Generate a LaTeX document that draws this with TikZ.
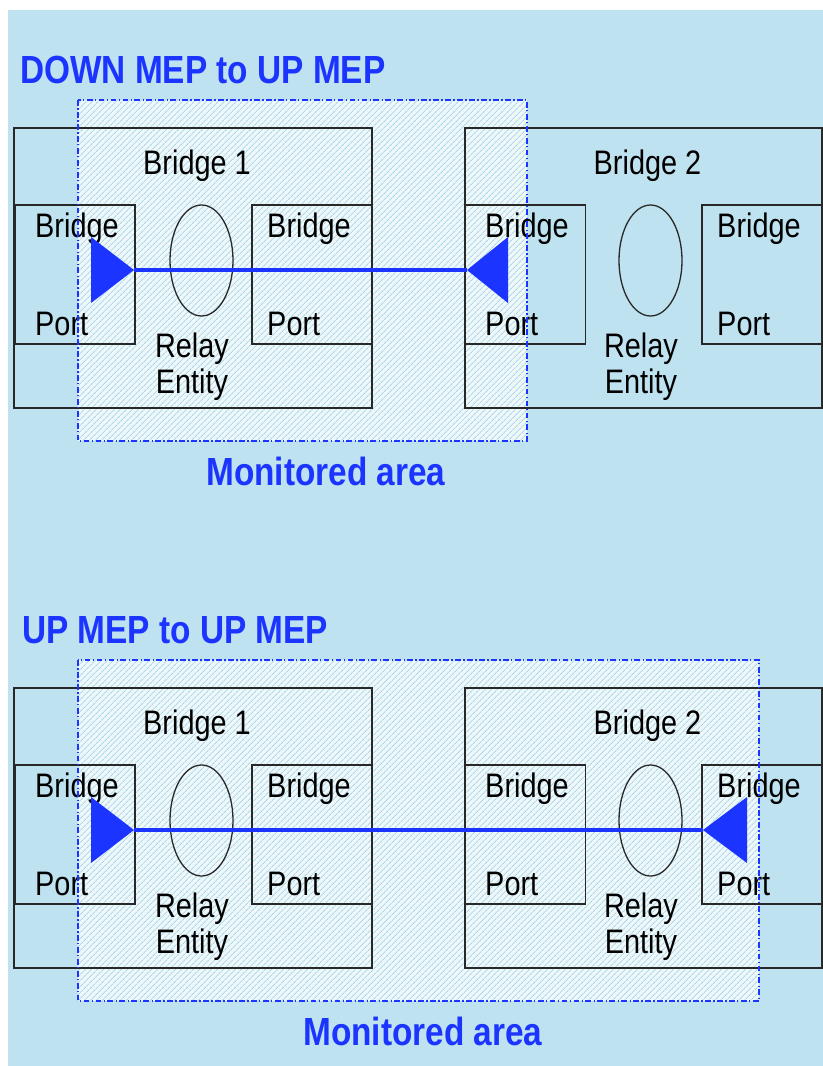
\documentclass[tikz,border=0pt]{standalone}
\usepackage{fontspec}
\setmainfont{Liberation Sans}[FakeStretch=0.85]
\usetikzlibrary{shapes.geometric,patterns.meta}
\definecolor{skyback}{RGB}{190,226,239}
\definecolor{hatchbg}{RGB}{238,247,250}
\definecolor{hatchln}{RGB}{172,216,229}
\definecolor{mepblue}{RGB}{28,52,255}
\definecolor{boxline}{RGB}{40,40,40}

\begin{document}
\begin{tikzpicture}[x=0.03cm, y=-0.03cm,
    bridgebox/.style={draw=boxline, line width=1.5pt, minimum width=10.74cm, minimum height=8.4cm, inner sep=0},
    portbox/.style={draw=boxline, line width=1.5pt, minimum width=3.6cm, minimum height=4.17cm, inner sep=0},
    relay/.style={draw=boxline, line width=1.1pt, ellipse, minimum width=1.89cm, minimum height=3.33cm, inner sep=0},
    txt/.style={font=\fontsize{29}{31}\selectfont, text=black, inner sep=0},
    title/.style={font=\fontsize{33.5}{36}\selectfont\bfseries, text=mepblue, inner sep=0},
    monarea/.style={pattern={Lines[angle=45, distance=4pt, line width=1pt]}, pattern color=hatchln},
    monborder/.style={draw=mepblue, line width=1.3pt, dash pattern=on 5pt off 2pt on 1.2pt off 2pt},
    mepline/.style={draw=mepblue, line width=3.2pt}]
        \useasboundingbox (0,0) rectangle (823,1066);
        \fill[skyback] (8,10) rectangle (823,1066);

        % monitored areas
        \fill[hatchbg] (78,100) rectangle (527,441);
        \fill[monarea] (78,100) rectangle (527,441);
        \fill[hatchbg] (78,660) rectangle (759,1001);
        \fill[monarea] (78,660) rectangle (759,1001);

        % the two bridges, twice
        \foreach \dy/\n in {0/a,560/b} {
            \node[bridgebox] (bridgeone\n) at (193,{268+\dy}) {};
            \node[bridgebox, minimum width=10.71cm] (bridgetwo\n) at (643.5,{268+\dy}) {};
            \node[portbox] (porta\n) at (75,{274.5+\dy}) {};
            \node[portbox] (portb\n) at (312,{274.5+\dy}) {};
            \node[portbox] (portc\n) at (525.5,{274.5+\dy}) {};
            \node[portbox] (portd\n) at (762,{274.5+\dy}) {};
            \node[relay] (relayone\n) at (201.5,{260.5+\dy}) {};
            \node[relay] (relaytwo\n) at (650.5,{260.5+\dy}) {};
            \node[txt, anchor=base] (nameone\n) at (197,{174+\dy}) {Bridge 1};
            \node[txt, anchor=base] (nametwo\n) at (647.5,{174+\dy}) {Bridge 2};
            \node[txt, anchor=base] (relayta\n) at (192,{357+\dy}) {Relay};
            \node[txt, anchor=base] (relaytb\n) at (192,{393+\dy}) {Entity};
            \node[txt, anchor=base] (relaytc\n) at (641,{357+\dy}) {Relay};
            \node[txt, anchor=base] (relaytd\n) at (641,{393+\dy}) {Entity};
            \foreach \px in {35,267,485,717} {
                \node[txt, anchor=base west] (ptop\n\px) at (\px,{237+\dy}) {Bridge};
                \node[txt, anchor=base west] (pbot\n\px) at (\px,{335+\dy}) {Port};
            }
        }

        \draw[monborder] (78,100) rectangle (527,441);
        \draw[monborder] (78,660) rectangle (759,1001);

        \node[title, anchor=base west] (titlea) at (20,83) {DOWN MEP to UP MEP};
        \node[title, anchor=base west] (titleb) at (22,643) {UP MEP to UP MEP};
        \node[title, anchor=base] (areaa) at (326,485) {Monitored area};
        \node[title, anchor=base] (areab) at (423,1045) {Monitored area};

        % MEPs
        \coordinate (mepa1) at (134,270);
        \coordinate (mepa2) at (467,270);
        \coordinate (mepb1) at (134,830);
        \coordinate (mepb2) at (703,830);
        \draw[mepline] (mepa1) -- (mepa2);
        \draw[mepline] (mepb1) -- (mepb2);
        \fill[mepblue] (mepa1) -- ++(-43,-33) -- ++(0,66) -- cycle;
        \fill[mepblue] (mepa2) -- ++(41,-33) -- ++(0,66) -- cycle;
        \fill[mepblue] (mepb1) -- ++(-43,-33) -- ++(0,66) -- cycle;
        \fill[mepblue] (mepb2) -- ++(44,-33) -- ++(0,66) -- cycle;
    \end{tikzpicture}
\end{document}
